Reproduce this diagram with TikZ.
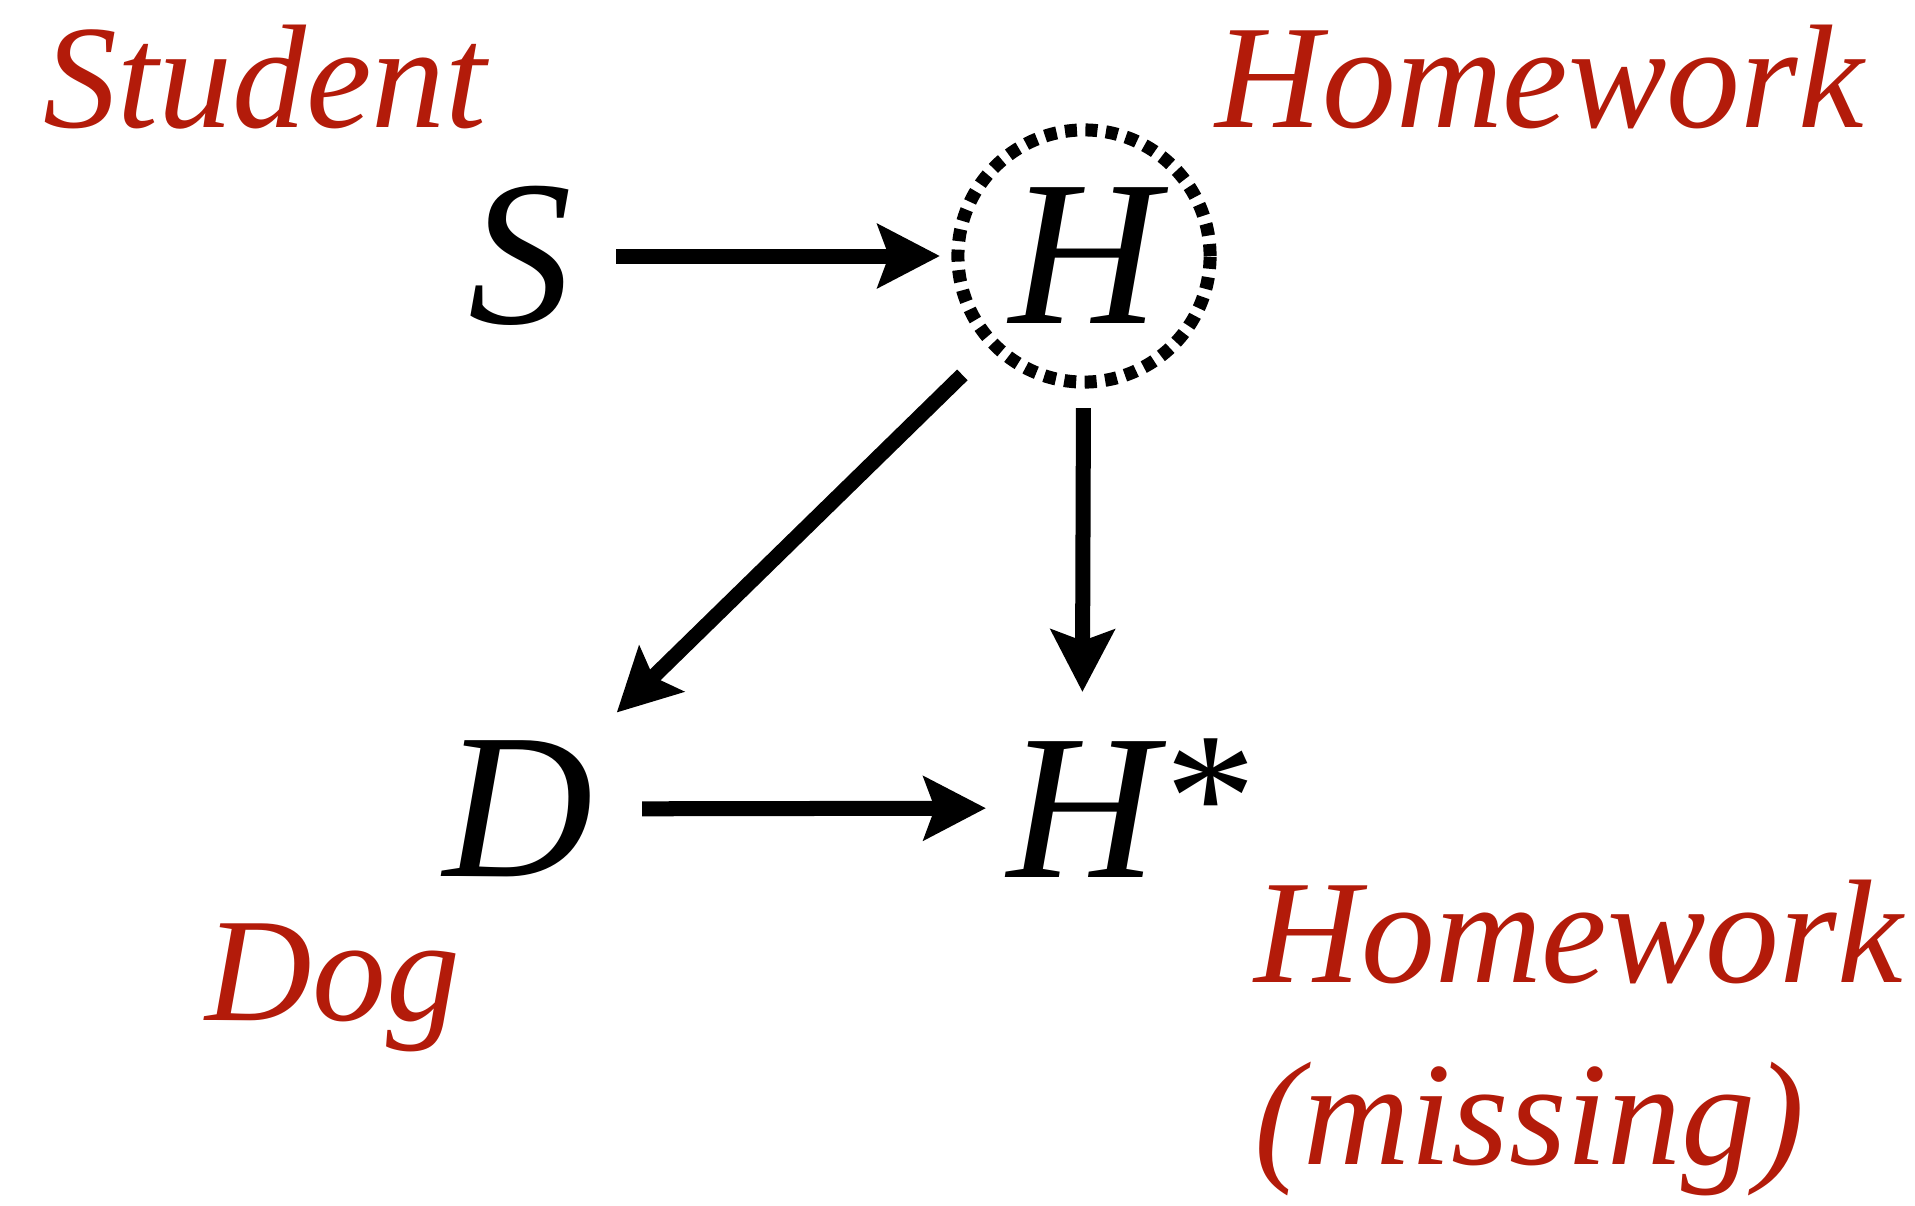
\documentclass[tikz,border=0pt]{standalone}
\usepackage{fontspec}
\setmainfont{Liberation Serif}
\usetikzlibrary{arrows.meta}
\definecolor{noteRed}{HTML}{B31B0A}

\begin{document}
\begin{tikzpicture}[
  x=0.01cm,y=-0.01cm,
  var/.style={inner sep=0pt,font=\fontsize{59}{60}\selectfont\itshape},
  latent/.style={var,circle,draw,line width=0.13cm,dash pattern=on 0.12cm off 0.085cm,minimum size=2.52cm},
  note/.style={inner sep=0pt,anchor=base west,align=left,text=noteRed,font=\fontsize{42}{51.5}\selectfont\itshape},
  arr/.style={-{Stealth[length=0.62cm,width=0.63cm,inset=0.11cm]},line width=0.15cm}
]
\useasboundingbox (0,0) rectangle (1915,1205);
\node[var] (S) at (520,256) {S};
\node[latent] (H) at (1084,256) {H};
\node[var] (D) at (518,809) {D};
\node[var] (Hs) at (1082,808) {H\rlap{\raisebox{0.19cm}{\fontsize{52}{52}\selectfont *}}};
\node[note] (student) at (43,127) {Student};
\node[note] (homework) at (1215,127) {Homework};
\node[note] (dog) at (205,1020) {Dog};
\node[note] (missing) at (1254,1164) {Homework\\(missing)};
\draw[arr,shorten <=0.96cm,shorten >=1.44cm] (S.center) -- (H.center);
\draw[arr,shorten <=1.70cm,shorten >=1.38cm] (H.center) -- (D.center);
\draw[arr,shorten <=1.52cm,shorten >=1.16cm] (H.center) -- (Hs.center);
\draw[arr,shorten <=1.24cm,shorten >=0.96cm] (D.center) -- (Hs.center);
\end{tikzpicture}
\end{document}
